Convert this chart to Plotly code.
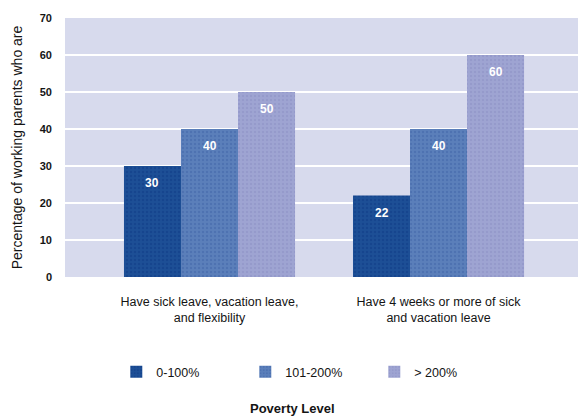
import plotly.graph_objects as go

# Categories, series and values
categories = [
    "Have sick leave, vacation leave,<br>and flexibility",
    "Have 4 weeks or more of sick<br>and vacation leave",
]
series_names = ["0-100%", "101-200%", "> 200%"]
values_low = [30, 22]
values_mid = [40, 40]
values_high = [50, 60]
y_ticks = [0, 10, 20, 30, 40, 50, 60, 70]

series_values = [values_low, values_mid, values_high]
colors = ["#1d4f96", "#5b7fba", "#9ea4d2"]
dot_colors = ["#0d3a85", "#3f64a8", "#8c90c4"]

FONT = "Liberation Sans, Arial, sans-serif"
TEXT = "#141414"
BARGAP = 0.253

fig = go.Figure()
value_labels = []
n_series = len(series_values)
bar_w = (1 - BARGAP) / n_series
for i, (name, vals, col, dcol) in enumerate(zip(series_names, series_values, colors, dot_colors)):
    fig.add_trace(go.Bar(
        x=list(range(len(categories))),
        y=vals,
        name=name,
        marker=dict(
            color=col,
            line=dict(width=0),
            pattern=dict(shape=".", fgcolor=dcol, size=4, solidity=0.3),
        ),
        hoverinfo="skip",
    ))
    # value labels sitting just inside the top of each bar
    offset = (i - (n_series - 1) / 2) * bar_w
    for ci, v in enumerate(vals):
        value_labels.append(dict(
            x=ci + offset, y=v, xref="x", yref="y",
            text=f"<b>{v}</b>",
            showarrow=False,
            yanchor="middle",
            yshift=-17,
            font=dict(color="white", size=12, family=FONT),
        ))

fig.update_layout(
    width=578,
    height=417,
    margin=dict(l=65, r=0, t=18, b=140),
    paper_bgcolor="white",
    plot_bgcolor="#d7daed",
    barmode="group",
    bargap=BARGAP,
    bargroupgap=0,
    font=dict(family=FONT, color=TEXT, size=12),
    xaxis=dict(
        tickmode="array",
        tickvals=list(range(len(categories))),
        ticktext=categories,
        range=[-0.631, 1.609],
        showgrid=False,
        zeroline=False,
        showline=False,
        ticks="",
        ticklabelstandoff=15,
        tickfont=dict(size=12.5, family=FONT, color=TEXT),
    ),
    yaxis=dict(
        range=[0, 70],
        tickvals=y_ticks,
        ticktext=[f"<b>{t}</b>" for t in y_ticks],
        showgrid=True,
        gridcolor="white",
        gridwidth=2,
        zeroline=False,
        showline=False,
        ticks="",
        ticklabelstandoff=12,
        tickfont=dict(size=11, family=FONT, color=TEXT),
        title=dict(
            text="Percentage of working parents who are",
            font=dict(size=14, family=FONT, color=TEXT),
            standoff=13,
        ),
    ),
    legend=dict(
        orientation="h",
        x=0.10,
        y=-0.367,
        xanchor="left",
        yanchor="middle",
        entrywidth=84,
        font=dict(size=12.5, family=FONT, color=TEXT),
        itemclick=False,
    ),
    annotations=value_labels + [
        dict(
            text="<b>Poverty Level</b>",
            xref="paper", yref="paper",
            x=0.444, y=-0.506,
            xanchor="center", yanchor="middle",
            showarrow=False,
            font=dict(size=13, family=FONT, color=TEXT),
        )
    ],
)

fig.write_html("out.html")
